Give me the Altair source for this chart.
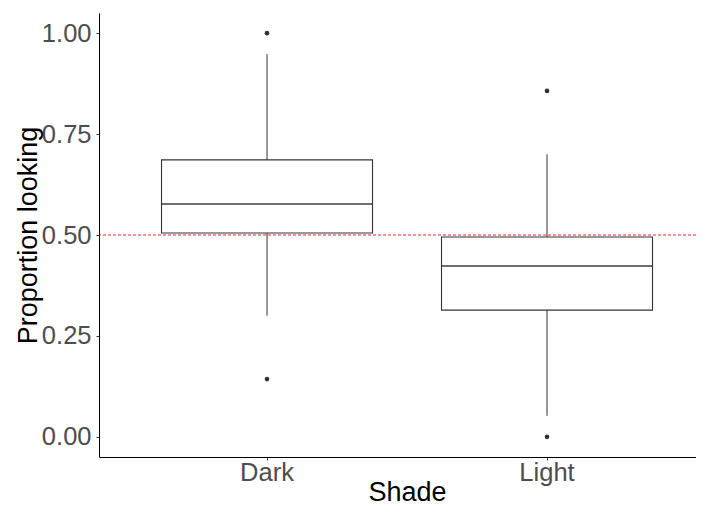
import altair as alt
import pandas as pd

# Summary statistics
shades = ["Dark", "Light"]
q1 = [0.505, 0.314]
median = [0.577, 0.423]
q3 = [0.686, 0.495]
whisker_lo = [0.30, 0.052]
whisker_hi = [0.948, 0.70]

outlier_shade = ["Dark", "Dark", "Light", "Light"]
outlier_value = [1.0, 0.143, 0.857, 0.0]

reference_line = [0.5]

box_df = pd.DataFrame({
    "Shade": shades, "q1": q1, "median": median, "q3": q3,
    "lo": whisker_lo, "hi": whisker_hi,
})
out_df = pd.DataFrame({"Shade": outlier_shade, "value": outlier_value})
ref_df = pd.DataFrame({"ref": reference_line})

W, H = 597, 444
BOX_W = 211
LINE = "#333333"

x_enc = alt.X(
    "Shade:N",
    title="Shade",
    sort=shades,
    scale=alt.Scale(paddingInner=0, paddingOuter=0.0661, align=0.757),
    axis=alt.Axis(labelAngle=0, titleX=308, titleY=43,
                  titleBaseline="alphabetic", titleAlign="center"),
)
y_scale = alt.Scale(domain=[-0.05, 1.05], nice=False, zero=False)
y_axis = alt.Axis(values=[0, 0.25, 0.5, 0.75, 1.0], format=".2f",
                  title="Proportion looking", titleX=-63, titleY=222,
                  titleBaseline="alphabetic", titleAlign="center", titleAngle=270)

whisk_up = alt.Chart(box_df).mark_rule(color=LINE, strokeWidth=1).encode(
    x=x_enc,
    y=alt.Y("q3:Q", scale=y_scale, axis=y_axis),
    y2="hi:Q",
)
whisk_dn = alt.Chart(box_df).mark_rule(color=LINE, strokeWidth=1).encode(
    x=x_enc, y=alt.Y("lo:Q", scale=y_scale, axis=y_axis), y2="q1:Q"
)
box = alt.Chart(box_df).mark_bar(
    size=BOX_W, fill="white", stroke=LINE, strokeWidth=1.1
).encode(x=x_enc, y=alt.Y("q1:Q", scale=y_scale, axis=y_axis), y2="q3:Q")
med = alt.Chart(box_df).mark_tick(
    size=BOX_W, thickness=2, color=LINE, orient="horizontal"
).encode(x=x_enc, y=alt.Y("median:Q", scale=y_scale, axis=y_axis))
pts = alt.Chart(out_df).mark_circle(size=22, color=LINE, opacity=1).encode(
    x=x_enc, y=alt.Y("value:Q", scale=y_scale, axis=y_axis)
)
ref = alt.Chart(ref_df).mark_rule(
    color="#FF0000", strokeDash=[3, 2], strokeWidth=1, opacity=0.85
).encode(y=alt.Y("ref:Q", scale=y_scale, axis=y_axis))

chart = alt.layer(whisk_up, whisk_dn, box, med, pts, ref).properties(
    width=W, height=H,
    autosize=alt.AutoSizeParams(type="none"),
    padding={"left": 91, "top": 5, "right": 0, "bottom": 44},
).configure_view(stroke=None).configure_axis(
    grid=False,
    domainColor="#000000",
    domainWidth=1,
    tickColor="#333333",
    tickSize=3,
    labelFont="Liberation Sans",
    labelFontSize=25.5,
    labelColor="#4D4D4D",
    titleFont="Liberation Sans",
    titleFontSize=27,
    titleFontWeight="normal",
    titleColor="#000000",
).configure_axisX(labelPadding=0).configure_axisY(labelPadding=5)

chart.save("out.html", embed_options={"renderer": "svg", "actions": False})
